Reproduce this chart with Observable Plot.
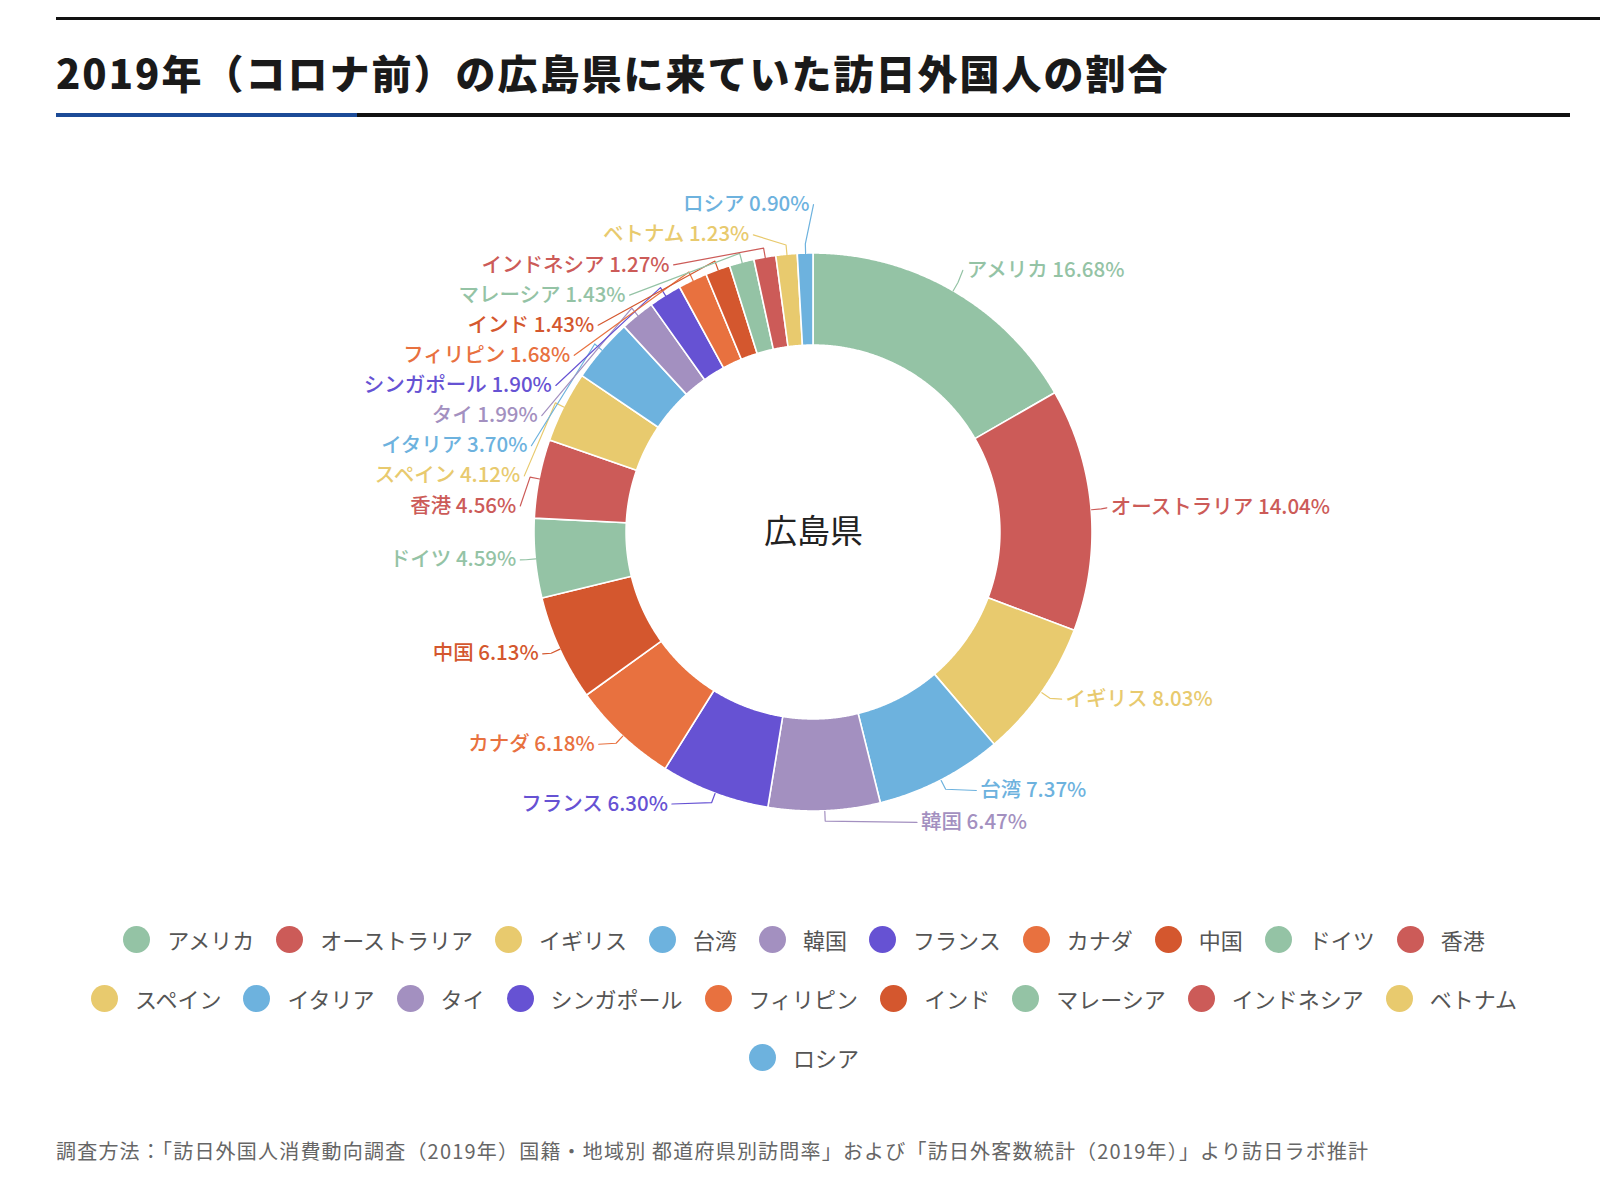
<!DOCTYPE html>
<html><head><meta charset="utf-8">
<script src="https://cdn.jsdelivr.net/npm/d3@7"></script>
<script src="https://cdn.jsdelivr.net/npm/@observablehq/plot@0.6"></script>
<style>
body{margin:0;background:#fff;width:1600px;height:1178px;position:relative;overflow:hidden;font-family:"Noto Sans CJK JP","Noto Sans",sans-serif;}
#topRule{position:absolute;left:56px;top:17px;width:1544px;height:3px;background:#111;}
#title{position:absolute;left:56px;top:48px;font-size:40px;font-weight:900;line-height:48px;color:#1a1a1a;letter-spacing:2px;white-space:nowrap;}
#rule2{position:absolute;left:56px;top:113px;width:1514px;height:4px;background:#111;}
#rule2 .blue{position:absolute;left:0;top:0;width:301px;height:4px;background:#1c4b97;}
#chart{position:absolute;left:0;top:130px;}
#legend{position:absolute;left:74px;top:926px;width:1460px;display:flex;flex-wrap:wrap;justify-content:center;row-gap:32px;}
.item{display:flex;align-items:center;margin:0 11px;height:27px;}
.dot{width:27px;height:27px;border-radius:50%;margin-right:17px;}
.lab{font-size:22px;color:#555;line-height:27px;white-space:nowrap;}
#footer{position:absolute;left:56px;top:1139px;font-size:20px;color:#666;letter-spacing:1.2px;white-space:nowrap;line-height:24px;}
</style></head><body>
<div id="topRule"></div>
<div id="title"></div>
<div id="rule2"><div class="blue"></div></div>
<div id="chart"></div>
<div id="legend"></div>
<div id="footer"></div>
<script>
const titleText = "2019年（コロナ前）の広島県に来ていた訪日外国人の割合";
const centerName = "広島県";
const footerText = "調査方法：「訪日外国人消費動向調査（2019年）国籍・地域別 都道府県別訪問率」および「訪日外客数統計（2019年）」より訪日ラボ推計";
const names = ["アメリカ","オーストラリア","イギリス","台湾","韓国","フランス","カナダ","中国","ドイツ","香港","スペイン","イタリア","タイ","シンガポール","フィリピン","インド","マレーシア","インドネシア","ベトナム","ロシア"];
const values = [16.68,14.04,8.03,7.37,6.47,6.30,6.18,6.13,4.59,4.56,4.12,3.70,1.99,1.90,1.68,1.43,1.43,1.27,1.23,0.90];
const palette = ["#94c3a5","#cc5b58","#e8ca6e","#6db2de","#a390c0","#6652d3","#e8713f","#d4572e"];
const colors = names.map((d,i)=>palette[i%palette.length]);

document.getElementById("title").textContent = titleText;
document.getElementById("footer").textContent = footerText;

// layout constants
const W = 1600, H = 770, R = 279, cx = 813, cy = 402;
const inner = 0.67;

const arcs = d3.pie().sort(null).value(d=>d)(values);

// slice polygons (data units: outer radius = 1)
const sliceData = [];
arcs.forEach((a,i)=>{
  const n = Math.max(2, Math.ceil((a.endAngle-a.startAngle)/0.005));
  for(let k=0;k<=n;k++){
    const t = a.startAngle + (a.endAngle-a.startAngle)*k/n;
    sliceData.push({name:names[i], xo:Math.sin(t), yo:Math.cos(t), xi:inner*Math.sin(t), yi:inner*Math.cos(t)});
  }
});

// labels: placed on an ellipse around the ring, stacked to avoid overlaps
const gap = 0.108, topY = 1.175, ax = 1.055;
const labels = arcs.map((a,i)=>{
  const t = (a.startAngle+a.endAngle)/2;
  const c = Math.cos(t), s = Math.sin(t);
  return {name:names[i], text:`${names[i]} ${values[i].toFixed(2)}%`, t, s, c, side: s>=0?1:-1, ny: c*(c>0?1.085:1.04)};
});
function stack(arr){
  arr.sort((a,b)=>b.ny-a.ny);
  const pass = ()=>arr.forEach((d,i)=>{ d.ly = i ? Math.min(d.ny, arr[i-1].ly-gap) : (d.ly ?? d.ny); });
  pass();
  if(arr.length>1 && arr[0].ny-arr[1].ny < gap){ arr[0].ly = Math.max(arr[0].ny, topY); pass(); }
}
const right = labels.filter(d=>d.side>0), left = labels.filter(d=>d.side<0);
stack(right); stack(left);
labels.forEach(d=>{
  const by = d.ly > 0 ? 1.09 : 1.11;
  const q = d.ly/by;
  d.lx = d.side*ax*Math.sqrt(Math.max(0, 1 - q*q));
});

const leaders = [];
labels.forEach(d=>{
  leaders.push({name:d.name, x:d.s*1.0, y:d.c*1.0});
  leaders.push({name:d.name, x:d.s*1.035, y:d.c*1.035});
  leaders.push({name:d.name, x:d.lx, y:d.ly});
});

const fontFamily = '"Noto Sans CJK JP","Noto Sans",sans-serif';
const labelSize = 20.5;
const chart = Plot.plot({
  width: W, height: H, margin: 0,
  x: {domain:[-cx/R, (W-cx)/R], axis:null},
  y: {domain:[-(H-cy)/R, cy/R], axis:null},
  color: {domain:names, range:colors},
  style: {fontFamily, background:"transparent"},
  marks: [
    Plot.area(sliceData, {x1:"xo", y1:"yo", x2:"xi", y2:"yi", z:"name", fill:"name", stroke:"#fff", strokeWidth:1.6, curve:"linear"}),
    Plot.line(leaders, {x:"x", y:"y", z:"name", stroke:"name", strokeWidth:1.2, curve:"linear"}),
    Plot.text(right, {x:"lx", y:"ly", text:"text", fill:"name", textAnchor:"start", dx:4, fontSize:labelSize, fontWeight:500, fontFamily}),
    Plot.text(left, {x:"lx", y:"ly", text:"text", fill:"name", textAnchor:"end", dx:-4, fontSize:labelSize, fontWeight:500, fontFamily}),
    Plot.text([{name:centerName, x:0, y:0}], {x:"x", y:"y", text:"name", fill:"#222", fontSize:33, fontFamily})
  ]
});
document.getElementById("chart").appendChild(chart);

// legend
const legend = document.getElementById("legend");
names.forEach((n,i)=>{
  const it = document.createElement("div"); it.className="item";
  const dot = document.createElement("div"); dot.className="dot"; dot.style.background = colors[i];
  const lab = document.createElement("span"); lab.className="lab"; lab.textContent = n;
  it.appendChild(dot); it.appendChild(lab); legend.appendChild(it);
});
</script>
</body></html>
